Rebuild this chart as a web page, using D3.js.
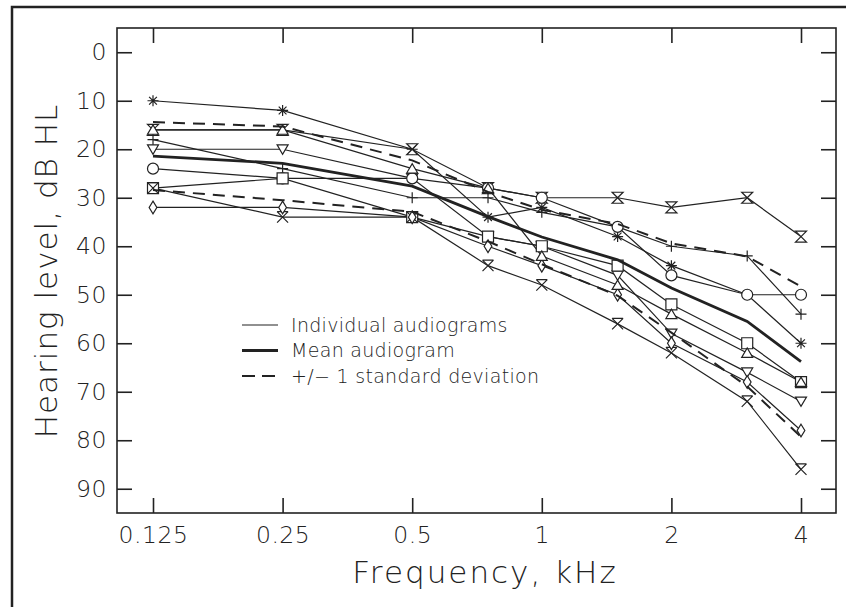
<!DOCTYPE html>
<html>
<head>
<meta charset="utf-8">
<script src="https://cdn.jsdelivr.net/npm/d3@7"></script>
<style>
	body { margin: 0; background: #fff; }
	svg text { font-family: "DejaVu Sans", sans-serif; font-weight: 200; fill: #222; }
</style>
</head>
<body>
<svg id="chart" width="846" height="607"></svg>
<script>
"use strict";

// Audiometric test frequencies, kHz
var freqs = [0.125, 0.25, 0.5, 0.75, 1, 1.5, 2, 3, 4];
var freqTicks = [0.125, 0.25, 0.5, 1, 2, 4];
var freqTickLabels = ["0.125", "0.25", "0.5", "1", "2", "4"];
var levelTicks = [0, 10, 20, 30, 40, 50, 60, 70, 80, 90];

// Individual audiograms (dB HL), one per marker type
var sAsterisk = [10, 12, 20, 34, 32, 38, 44, 50, 60];
var sHourglass = [16, 16, 20, 28, 30, 30, 32, 30, 38];
var sPlus = [18, 24, 30, 30, 33, 36, 40, 42, 54];
var sTriDown = [20, 20, 26, 38, 40, 46, 58, 66, 72];
var sCircle = [24, 26, 26, 28, 30, 36, 46, 50, 50];
var sSquare = [28, 26, 34, 38, 40, 44, 52, 60, 68];
var sCross = [28, 34, 34, 44, 48, 56, 62, 72, 86];
var sDiamond = [32, 32, 34, 40, 44, 50, 60, 68, 78];
var sTriUp = [16, 16, 24, 28, 42, 48, 54, 62, 68];

// Mean audiogram and standard deviation
var meanLevel = [21.4, 22.9, 27.6, 33.9, 38.1, 42.8, 48.6, 55.5, 63.8];
var sdLevel = [7.0, 7.6, 5.3, 5.1, 5.6, 7.4, 9.2, 13.4, 15.5];

var legendLabels = ["Individual audiograms", "Mean audiogram", "+/\u2212 1 standard deviation"];

var series = [
	{ values: sAsterisk, marker: "asterisk" },
	{ values: sHourglass, marker: "hourglass" },
	{ values: sPlus, marker: "plus" },
	{ values: sTriDown, marker: "triDown" },
	{ values: sCircle, marker: "circle" },
	{ values: sSquare, marker: "square" },
	{ values: sCross, marker: "cross" },
	{ values: sDiamond, marker: "diamond" },
	{ values: sTriUp, marker: "triUp" }
];

////////////////////////////////////////////////////////////////////////////////
// Marker outline as an SVG path around (0,0), half-size r
////////////////////////////////////////////////////////////////////////////////
function markerPath(type, r) {
	var h = r * 1.15;
	switch (type) {
		case "asterisk":
			var p = "", a, i;
			for (i = 0; i < 4; i++) {
				a = i * Math.PI / 4;
				p += "M" + (-r * Math.cos(a)) + "," + (-r * Math.sin(a)) +
					"L" + (r * Math.cos(a)) + "," + (r * Math.sin(a));
			}
			return p;
		case "hourglass":
			return "M" + (-r) + "," + (-r) + "L" + r + "," + (-r) + "L" + (-r) + "," + r +
				"L" + r + "," + r + "Z";
		case "plus":
			return "M" + (-r) + ",0L" + r + ",0M0," + (-r) + "L0," + r;
		case "cross":
			return "M" + (-r) + "," + (-r) + "L" + r + "," + r + "M" + r + "," + (-r) +
				"L" + (-r) + "," + r + "M" + (-r) + "," + (-r) + "L" + r + "," + (-r);
		case "triDown":
			return "M" + (-r) + "," + (-r * 0.8) + "L" + r + "," + (-r * 0.8) + "L0," + (r * 0.9) + "Z";
		case "triUp":
			return "M" + (-r) + "," + (r * 0.8) + "L" + r + "," + (r * 0.8) + "L0," + (-r * 0.9) + "Z";
		case "square":
			return "M" + (-r) + "," + (-r) + "H" + r + "V" + r + "H" + (-r) + "Z";
		case "diamond":
			return "M0," + (-h) + "L" + (r * 0.7) + ",0L0," + h + "L" + (-r * 0.7) + ",0Z";
		case "circle":
			return d3.symbol(d3.symbolCircle, Math.PI * r * r)();
	}
	return "";
} // end function markerPath(...)

var svg = d3.select("#chart");
var W = 846, H = 607;
var frame = { left: 117, top: 28, right: 836, bottom: 513 };

var x = d3.scaleLog().base(2).domain([0.125, 4]).range([153, 801]);
var y = d3.scaleLinear().domain([-5, 95]).range([frame.top, frame.bottom]);

// Outer border
svg.append("rect").attr("x", 12).attr("y", 7).attr("width", W).attr("height", H)
	.style("fill", "none").style("stroke", "#222").style("stroke-width", 2.5);

// Axes (ticks pointing inward on all four sides)
var gLeft = svg.append("g").attr("transform", "translate(" + frame.left + ",0)")
	.call(d3.axisLeft(y).tickValues(levelTicks).tickSize(-15).tickSizeOuter(0).tickPadding(10));
var gRight = svg.append("g").attr("transform", "translate(" + frame.right + ",0)")
	.call(d3.axisRight(y).tickValues(levelTicks).tickSize(-15).tickSizeOuter(0).tickFormat(""));
var gBottom = svg.append("g").attr("transform", "translate(0," + frame.bottom + ")")
	.call(d3.axisBottom(x).tickValues(freqTicks).tickSize(-15).tickSizeOuter(0).tickPadding(13)
		.tickFormat(function(d, i) { return freqTickLabels[i]; }));
var gTop = svg.append("g").attr("transform", "translate(0," + frame.top + ")")
	.call(d3.axisTop(x).tickValues(freqTicks).tickSize(-15).tickSizeOuter(0).tickFormat(""));

[gLeft, gRight, gBottom, gTop].forEach(function(g) {
	g.select(".domain").remove();
	g.selectAll(".tick line").style("stroke", "#222").style("stroke-width", 1.6);
	g.selectAll(".tick text").style("font-size", "23.5px").style("letter-spacing", "0.5px")
		.style("font-family", "\"DejaVu Sans\", sans-serif").style("fill", "#222");
});

// Plot frame
svg.append("rect").attr("x", frame.left).attr("y", frame.top)
	.attr("width", frame.right - frame.left).attr("height", frame.bottom - frame.top)
	.style("fill", "none").style("stroke", "#222").style("stroke-width", 1.6);

var line = d3.line().x(function(d, i) { return x(freqs[i]); }).y(function(d) { return y(d); });

// Individual audiograms
var gSeries = svg.append("g");
series.forEach(function(s) {
	gSeries.append("path").attr("d", line(s.values))
		.style("fill", "none").style("stroke", "#222").style("stroke-width", 1.2);
});

// Mean and +/- 1 SD
var upper = meanLevel.map(function(m, i) { return m - sdLevel[i]; });
var lower = meanLevel.map(function(m, i) { return m + sdLevel[i]; });
svg.append("path").attr("d", line(meanLevel))
	.style("fill", "none").style("stroke", "#222").style("stroke-width", 2.8);
[upper, lower].forEach(function(v) {
	svg.append("path").attr("d", line(v))
		.style("fill", "none").style("stroke", "#222").style("stroke-width", 2)
		.style("stroke-dasharray", "12,8");
});

// Markers on top
series.forEach(function(s) {
	var open = ["plus", "cross", "asterisk"].indexOf(s.marker) < 0;
	gSeries.selectAll(null).data(s.values).enter().append("path")
		.attr("transform", function(d, i) { return "translate(" + x(freqs[i]) + "," + y(d) + ")"; })
		.attr("d", markerPath(s.marker, 5.5))
		.style("fill", open ? "#fff" : "none").style("stroke", "#222").style("stroke-width", 1.2);
});

// Legend
var legend = svg.append("g").attr("transform", "translate(242,325)");
var legendStyles = [
	{ w: 1.2, dash: null },
	{ w: 2.8, dash: null },
	{ w: 2, dash: "13,7" }
];
legendLabels.forEach(function(lbl, i) {
	var row = legend.append("g").attr("transform", "translate(0," + (i * 25.5) + ")");
	row.append("line").attr("x1", 0).attr("x2", 36).attr("y1", 0).attr("y2", 0)
		.style("stroke", "#222").style("stroke-width", legendStyles[i].w)
		.style("stroke-dasharray", legendStyles[i].dash);
	row.append("text").attr("x", 49).attr("y", 0).attr("dy", "0.35em")
		.style("font-size", "19px").style("letter-spacing", "0.3px").text(lbl);
});

// Axis titles
svg.append("text").attr("x", 485).attr("y", 583).attr("text-anchor", "middle")
	.style("font-size", "31px").style("letter-spacing", "2px").text("Frequency, kHz");
svg.append("text").attr("transform", "translate(57,271) rotate(-90)").attr("text-anchor", "middle")
	.style("font-size", "31px").style("letter-spacing", "1px").text("Hearing level, dB HL");
</script>
</body>
</html>
